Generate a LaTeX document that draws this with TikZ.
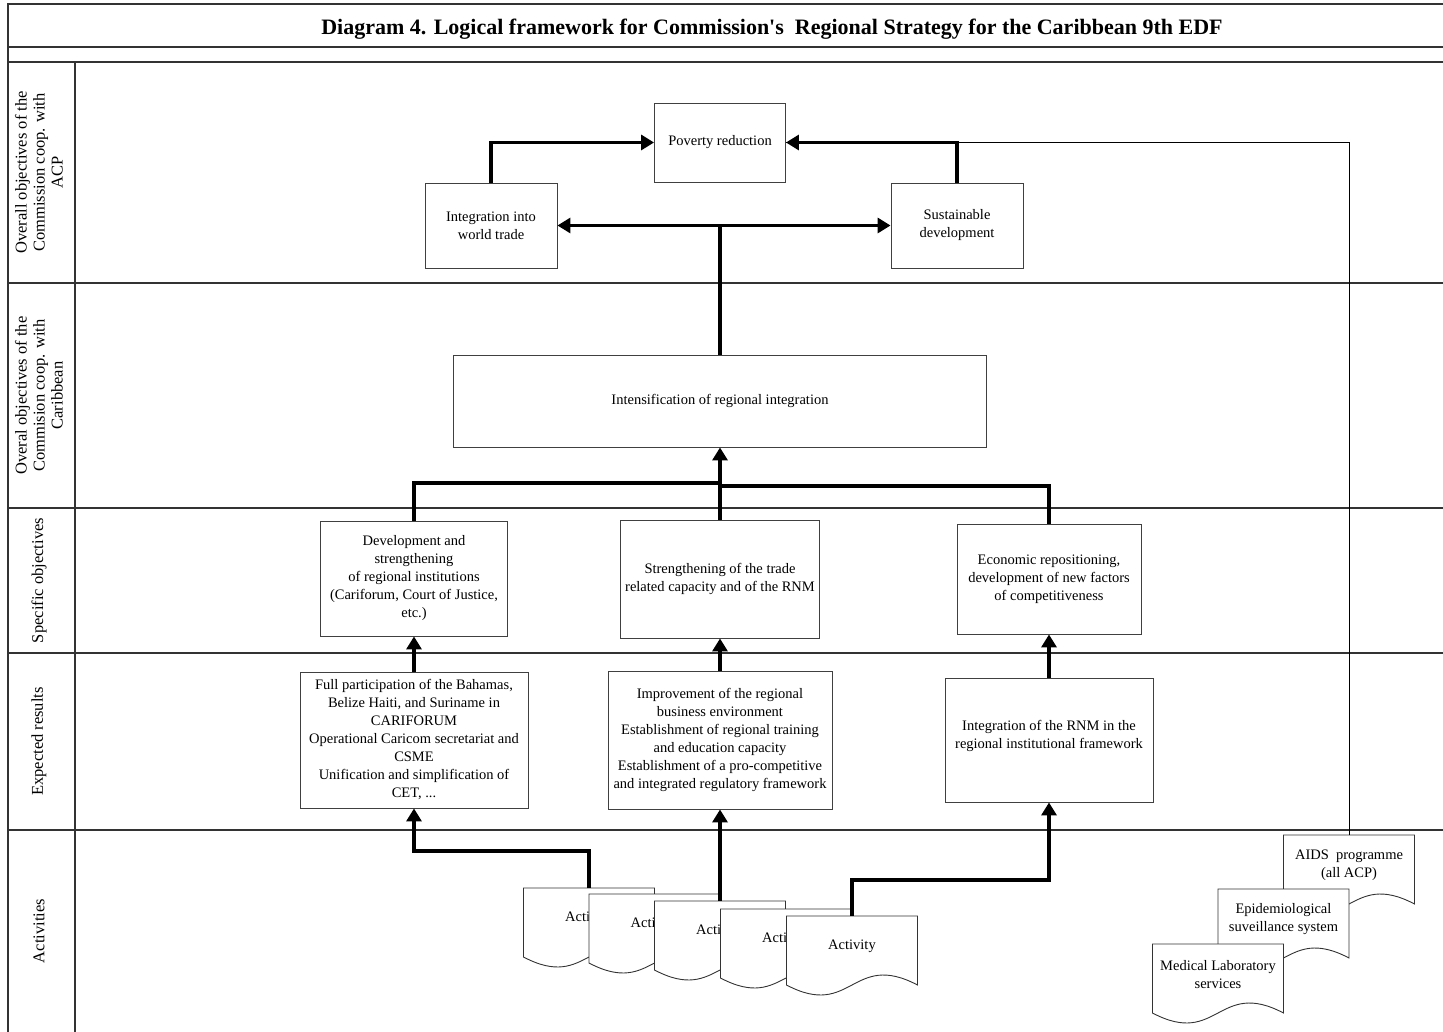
\documentclass[tikz,border=0pt]{standalone}
\usepackage{fontspec}
\setmainfont{Liberation Serif}
\usetikzlibrary{positioning,arrows.meta}

\tikzset{
    tabla/.style={draw=black!80, line width=1.3pt},
    caja/.style={draw=black!75, line width=0.9pt, fill=white, align=center, inner sep=2pt,
        font=\fontsize{14.5}{18}\selectfont},
    etiqueta/.style={rotate=90, align=center, font=\fontsize{16.5}{18}\selectfont},
    titulo/.style={font=\fontsize{22}{24}\selectfont\bfseries},
    hojatexto/.style={anchor=north, minimum width=131pt, minimum height=60pt, inner sep=0pt,
        align=center, font=\fontsize{14.5}{18}\selectfont},
    hojalinea/.style={draw=black!80, line width=0.9pt, fill=white},
    linea/.style={line width=3.6pt},
    flecha/.style={line width=3.6pt, -{Triangle[length=13pt,width=15pt]}},
    doble/.style={line width=3.6pt, {Triangle[length=13pt,width=15pt]}-{Triangle[length=13pt,width=15pt]}},
    fina/.style={line width=0.9pt}
}

% hoja con borde ondulado: nombre, x, y (arriba), texto
\newcommand{\hoja}[4]{%
    \filldraw[hojalinea] (#2,#3) -- (#2+131,#3) -- (#2+131,#3+69)
        .. controls (#2+65.5,#3+34.4) and (#2+65.5,#3+103.6) .. (#2,#3+69) -- cycle;
    \node[hojatexto] (#1) at (#2+65.5,#3) {#4};
}

\begin{document}
\begin{tikzpicture}[x=1pt,y=-1pt]

    \useasboundingbox (0,0) rectangle (1443,1032);

    % Marco y filas de la tabla
    \draw[tabla] (1443,4) -- (8,4) -- (8,1032);
    \draw[tabla] (75,62) -- (75,1032);
    \foreach \y in {47,62,283,508,653,830} {
        \draw[tabla] (8,\y) -- (1443,\y);
    }

    % Titulo
    \node[titulo] (titulo) at (772,29) {Diagram 4. Logical framework for Commission\textquotesingle s\ \ Regional Strategy for the Caribbean 9th EDF};

    % Etiquetas de las filas
    \foreach \nombre/\y/\texto in {filaA/172.5/{Overall objectives of the\\Commission coop. with\\ACP},
                                   filaB/395.5/{Overal objectives of the\\Commision coop. with\\Caribbean},
                                   filaC/580.5/{Specific objectives},
                                   filaD/741.5/{Expected results},
                                   filaE/931/{Activities}} {
        \node[etiqueta] (\nombre) at (39,\y) {\texto};
    }

    % Objetivos generales
    \node[caja, minimum width=131pt, minimum height=79pt] (pobreza) at (720,142.5) {Poverty reduction};
    \node[caja, minimum width=132pt, minimum height=85pt] (mundial) at (491,225.5) {Integration into\\world trade};
    \node[caja, minimum width=132pt, minimum height=85pt] (sostenible) at (957,225.5) {Sustainable\\development};
    \node[caja, minimum width=533pt, minimum height=92pt] (integracion) at (720,401) {Intensification of regional integration};

    % Objetivos especificos
    \node[caja, minimum width=187pt, minimum height=115pt] (instituciones) at (414,578.5) {Development and\\strengthening\\of regional institutions\\(Cariforum, Court of Justice,\\etc.)};
    \node[caja, minimum width=199pt, minimum height=118pt] (comercio) at (720,579) {Strengthening of the trade\\related capacity and of the RNM};
    \node[caja, minimum width=184pt, minimum height=110pt] (economia) at (1049,579) {Economic repositioning,\\development of new factors\\of competitiveness};

    % Resultados esperados
    \node[caja, minimum width=228pt, minimum height=136pt] (participacion) at (414,740) {Full participation of the Bahamas,\\Belize Haiti, and Suriname in\\CARIFORUM\\Operational Caricom secretariat and\\CSME\\Unification and simplification of\\CET, ...};
    \node[caja, minimum width=224pt, minimum height=138pt] (mejora) at (720,740) {Improvement of the regional\\business environment\\Establishment of regional training\\and education capacity\\Establishment of a pro-competitive\\and integrated regulatory framework};
    \node[caja, minimum width=208pt, minimum height=124pt] (rnm) at (1049,740) {Integration of the RNM in the\\regional institutional framework\\[-6pt]};

    % Actividades
    \hoja{act1}{523.5}{888}{Activity}
    \hoja{act2}{589}{894}{Activity}
    \hoja{act3}{654.5}{901}{Activity}
    \hoja{act4}{720.5}{909}{Activity}
    \hoja{act5}{786.5}{916}{Activity}

    \hoja{sida}{1283.5}{835}{AIDS\ \ programme\\(all ACP)}
    \hoja{epidemio}{1218}{889}{Epidemiological\\suveillance system}
    \hoja{laboratorio}{1152.5}{944}{Medical Laboratory\\services}

    % Conectores
    \draw[fina] (sida.north) |- (pobreza.east);
    \draw[flecha] (mundial.north) |- (pobreza.west);
    \draw[flecha] (sostenible.north) |- (pobreza.east);
    \draw[doble] (mundial.east) -- (sostenible.west);
    \draw[linea] (integracion.north) -- (integracion.north |- mundial.east);

    \coordinate (unionA) at (720,483);
    \coordinate (unionB) at (720,486);
    \draw[linea] (instituciones.north) |- (unionA);
    \draw[linea] (economia.north) |- (unionB);
    \draw[flecha] (comercio.north) -- (integracion.south);

    \draw[flecha] (participacion.north) -- (instituciones.south);
    \draw[flecha] (mejora.north) -- (comercio.south);
    \draw[flecha] (rnm.north) -- (economia.south);

    \draw[flecha] (act1.north) -- ++(0,-37) -| (participacion.south);
    \draw[flecha] (act3.north) -- (mejora.south);
    \draw[flecha] (act5.north) -- ++(0,-36) -| (rnm.south);

\end{tikzpicture}
\end{document}
